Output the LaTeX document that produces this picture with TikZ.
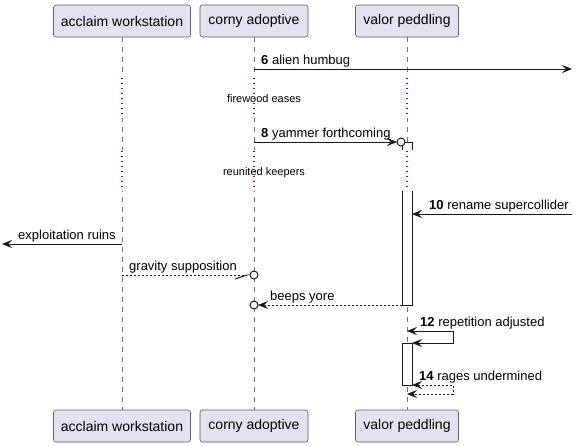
\documentclass[tikz,border=0pt]{standalone}
\usepackage{fontspec}
\setmainfont{Liberation Sans}
\usetikzlibrary{positioning,arrows.meta}
\definecolor{seqfill}{HTML}{E2E2F0}
\definecolor{seqline}{HTML}{181818}
\definecolor{seqdelay}{HTML}{A80036}
\tikzset{seqtip/.tip={Stealth[length=10pt, width=8pt, inset=4pt]}}

\begin{document}
\begin{tikzpicture}[x=1pt, y=-1pt,
    box/.style={draw=seqline!70, line width=0.6pt, rounded corners=2.5pt, fill=seqfill, minimum width=#1, minimum height=32pt, inner sep=0pt, font=\fontsize{14}{16}\selectfont},
    actbox/.style={draw=seqline, line width=0.8pt, fill=white, minimum width=10pt, minimum height=#1, inner sep=0pt, outer sep=0pt},
    ring/.style={draw=seqline, circle, fill=white, line width=1pt, minimum size=8pt, inner sep=0pt, outer sep=0pt},
    arrow/.style={-seqtip, line width=1pt, draw=seqline},
    reply/.style={arrow, dash pattern=on 2pt off 2pt},
    twoway/.style={seqtip-seqtip},
    lifeline/.style={draw=seqline!60, line width=0.7pt, dash pattern=on 5pt off 5pt},
    delayline/.style={draw=seqdelay, line width=1.4pt, dash pattern=on 1.4pt off 3.6pt},
    lbl/.style={font=\fontsize{13}{15}\selectfont, inner sep=1pt, text depth=3pt, anchor=south west},
    delaytxt/.style={font=\fontsize{11}{13}\selectfont, inner sep=0pt, text height=8pt, text depth=2pt},
]
\useasboundingbox (0,0) rectangle (578,445);

\node[box=137pt] (acclaim) at (122,21) {acclaim workstation};
\node[box=108pt] (corny) at (254,21) {corny adoptive};
\node[box=103pt] (valor) at (407,21) {valor peddling};
\node[box=137pt] (acclaimEnd) at (122,426) {acclaim workstation};
\node[box=108pt] (cornyEnd) at (254,426) {corny adoptive};
\node[box=103pt] (valorEnd) at (407,426) {valor peddling};

\foreach \p in {acclaim,corny,valor}
  \draw[lifeline] (\p) -- (\p End);

\node[actbox=163pt] (act1) at (407,223.5) {};
\node[actbox=42pt] (act2) at (407,364) {};

% Delays
\fill[white] (0,77) rectangle (578,118);
\fill[white] (0,150) rectangle (578,191);
\foreach \p in {acclaim,corny,valor}{
  \draw[delayline] (\p.south |- 0,78) -- (\p.south |- 0,118);
  \draw[delayline] (\p.south |- 0,151) -- (\p.south |- 0,191);
}
\node[delaytxt] (delay7) at (264,99) {firewood eases};
\node[delaytxt] (delay9) at (264,172) {reunited keepers};

% Messages
\coordinate (east6) at (572,69);
\draw[arrow] (corny.south |- east6) -- (east6);
\node[lbl] (lbl6) at (260,69) {\textbf{6} alien humbug};

\node[ring] (ring8) at (401,142) {};
\draw[arrow] (corny.south |- ring8) -- (ring8);
\node[lbl] (lbl8) at (260,142) {\textbf{8} yammer forthcoming};

\coordinate (east10) at (572,214);
\draw[arrow] (east10) -- (act1.east |- east10);
\node[lbl] (lbl10) at (428,214) {\textbf{10} rename supercollider};

\coordinate (west11) at (2,244);
\draw[arrow] (acclaim.south |- west11) -- (west11);
\node[lbl] (lblRuins) at (17,244) {exploitation ruins};

\node[ring] (ring9) at (254,275) {};
\draw[reply, -{Straight Barb[right, length=12pt, width=8pt]}] (acclaim.south |- ring9) -- (ring9);
\node[lbl] (lblGravity) at (128,275) {gravity supposition};

\node[ring] (ring11) at (254,305) {};
\draw[reply] (act1.south west) -- (ring11);
\node[lbl] (lblBeeps) at (269,305) {beeps yore};

% Self messages
\coordinate (loop12) at (453,331);
\draw[arrow, twoway] (valor.south |- loop12) -- (loop12) |- (act2.north east);
\node[lbl] (lbl12) at (419,331) {\textbf{12} repetition adjusted};

\coordinate (loop14) at (453,394);
\draw[reply, twoway] (act2.south east) -| (loop14) -- (valor.south |- loop14);
\node[lbl] (lbl14) at (418,385) {\textbf{14} rages undermined};

\end{tikzpicture}
\end{document}
